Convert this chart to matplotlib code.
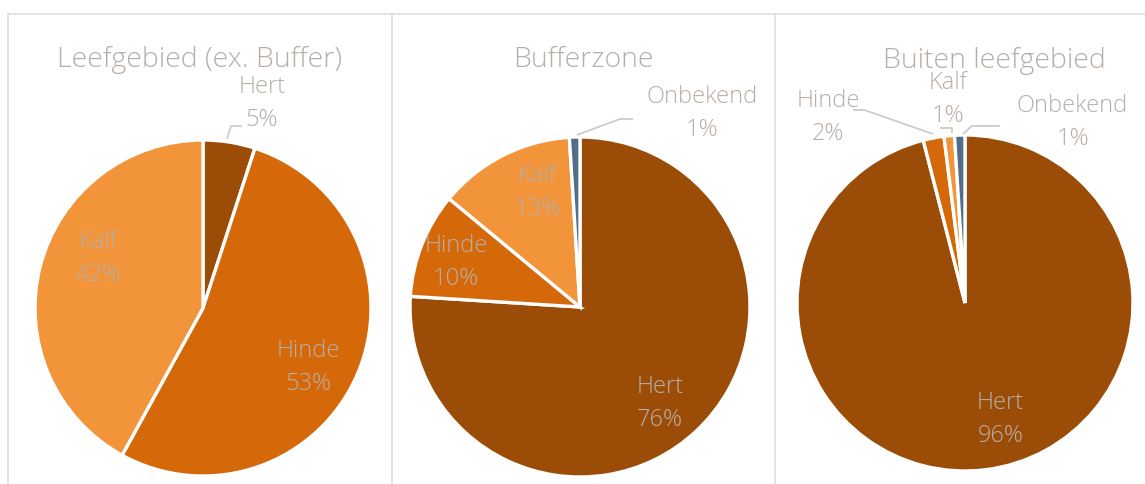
import matplotlib
matplotlib.use("Agg")
import matplotlib.pyplot as plt
from matplotlib.lines import Line2D

# ---- data -------------------------------------------------------------
titles = ["Leefgebied (ex. Buffer)", "Bufferzone", "Buiten leefgebied"]
cat_leef = ["Hert", "Hinde", "Kalf"]
val_leef = [5, 53, 42]
cat_buffer = ["Hert", "Hinde", "Kalf", "Onbekend"]
val_buffer = [76, 10, 13, 1]
cat_buiten = ["Hert", "Hinde", "Kalf", "Onbekend"]
val_buiten = [96, 2, 1, 1]

colors = {"Hert": "#9B4D08", "Hinde": "#D5690A", "Kalf": "#F1943A", "Onbekend": "#546D86"}
TEXT = "#B8AEA6"
LEADER = "#CFCBC7"
FRAME = "#DEDEDE"
FONT = ["Open Sans", "DejaVu Sans"]

W, H = 1145, 485
fig = plt.figure(figsize=(W / 100, H / 100), dpi=100)
fig.patch.set_facecolor("white")

# panel frames (chart borders)
for x0, x1, y0, y1 in [(8, 1145, 15, 15), (8, 8, 15, 485), (392, 392, 15, 485), (775, 775, 15, 485)]:
    fig.add_artist(Line2D([x0 / W, x1 / W], [1 - y0 / H, 1 - y1 / H], color=FRAME, lw=1.2))

# layout per panel: pie centre (px), radius (px), title pos, label pos, leader lines
panels = [
    dict(cats=cat_leef, vals=val_leef, c=(203, 309), r=168,
         title=(-0.018, 1.485),
         labels={"Hert": (0.35, 1.225), "Hinde": (0.625, -0.35), "Kalf": (-0.625, 0.30)},
         leaders=[[(0.143, 1.006), (0.167, 1.083), (0.232, 1.083)]]),
    dict(cats=cat_buffer, vals=val_buffer, c=(580, 308), r=170,
         title=(0.018, 1.46),
         labels={"Hert": (0.47, -0.56), "Hinde": (-0.73, 0.265), "Kalf": (-0.25, 0.68),
                 "Onbekend": (0.72, 1.145)},
         leaders=[[(-0.018, 1.012), (0.235, 1.106), (0.312, 1.106)]]),
    dict(cats=cat_buiten, vals=val_buiten, c=(965, 304), r=168,
         title=(0.173, 1.445),
         labels={"Hert": (0.21, -0.69), "Hinde": (-0.815, 1.11), "Kalf": (-0.10, 1.22),
                 "Onbekend": (0.64, 1.08)},
         leaders=[[(-0.667, 1.149), (-0.60, 1.149), (-0.190, 1.006)],
                  [(-0.149, 1.042), (-0.077, 1.042), (-0.077, 1.012)],
                  [(0.208, 1.054), (0.04, 1.054), (-0.012, 1.006)]]),
]

LIM = 1.7
for title, p in zip(titles, panels):
    cx, cy = p["c"]
    r = p["r"]
    ax = fig.add_axes([(cx - LIM * r) / W, (H - cy - LIM * r) / H, 2 * LIM * r / W, 2 * LIM * r / H])
    ax.pie(p["vals"], colors=[colors[c] for c in p["cats"]], startangle=90, counterclock=False,
           radius=1.0, wedgeprops=dict(edgecolor="white", linewidth=2.4), frame=True)
    ax.set_xlim(-LIM, LIM)
    ax.set_ylim(-LIM, LIM)
    ax.axis("off")
    ax.text(p["title"][0], p["title"][1], title, ha="center", va="center",
            fontsize=20.5, color=TEXT, family=FONT, weight="light")
    for cat, val in zip(p["cats"], p["vals"]):
        lx, ly = p["labels"][cat]
        ax.text(lx, ly, f"{cat}\n{val}%", ha="center", va="center", fontsize=17,
                color=TEXT, family=FONT, weight="light", linespacing=1.5)
    for pts in p["leaders"]:
        xs, ys = zip(*pts)
        ax.plot(xs, ys, color=LEADER, lw=1.3, solid_capstyle="butt")

fig.savefig("out.png", dpi=100, facecolor="white")
